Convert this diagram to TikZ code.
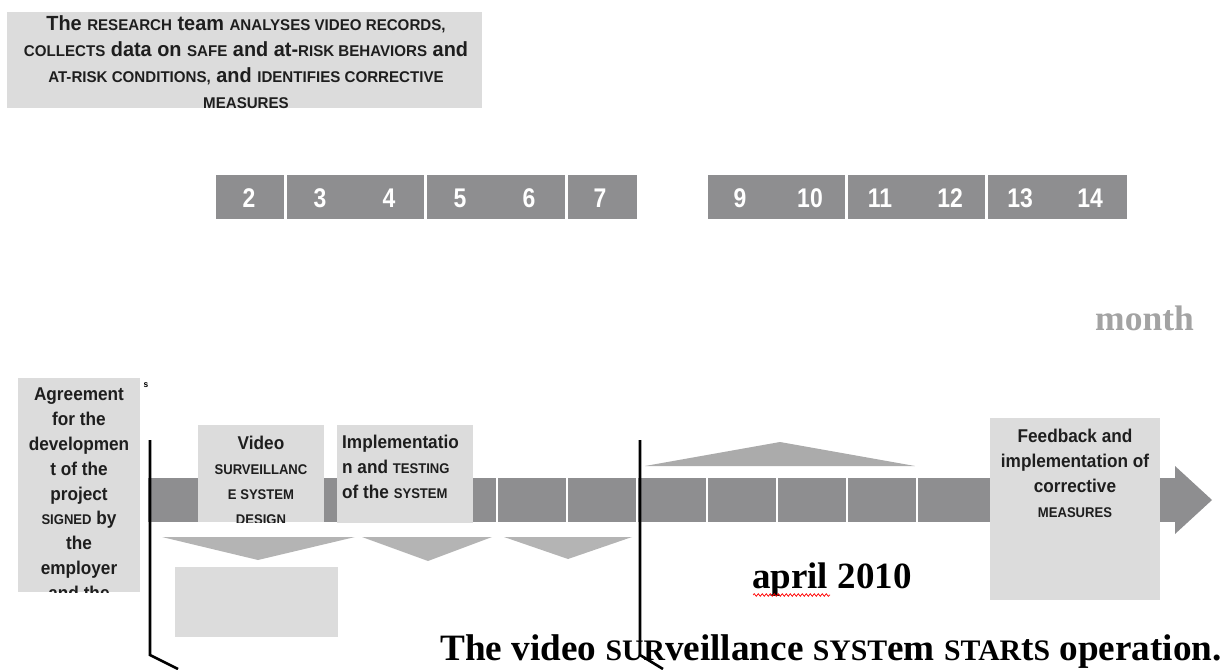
\documentclass[tikz,border=0pt]{standalone}
\usepackage{fontspec}
\setmainfont{Liberation Serif}
\newfontfamily\nar[FakeStretch=0.85]{Liberation Sans}
\newfontfamily\arl[FakeStretch=0.93]{Liberation Sans}
\newfontfamily\arn[FakeStretch=0.97]{Liberation Sans}
\usetikzlibrary{decorations.pathmorphing}
\definecolor{barc}{HTML}{8E8E90}
\definecolor{lbox}{HTML}{DCDCDC}
\definecolor{tric}{HTML}{B4B4B4}
\definecolor{toptri}{HTML}{ABABAB}
\definecolor{txt}{HTML}{1E1E1E}
\definecolor{monthc}{HTML}{A3A3A3}
\newcommand\kap[1]{\scalebox{0.76}{#1}}
\newcommand\skap[1]{\scalebox{0.8}{#1}}
\tikzset{
  lightbox/.style={fill=lbox, draw=none, inner sep=0pt},
  numbox/.style={fill=barc, draw=none, inner sep=0pt},
  numtxt/.style={text=white, font=\nar\bfseries\fontsize{27}{27}\selectfont, inner sep=0pt},
  boxtxt/.style={text=txt, font=\arl\bfseries\fontsize{18.5}{24.8}\selectfont, inner sep=0pt},
  pole/.style={line width=2.6pt, black},
  sep/.style={white, line width=1.8pt},
}
\begin{document}
\begin{tikzpicture}[x=1pt,y=-1pt]
\useasboundingbox (0,0) rectangle (1230,669);
% top description box
\node[lightbox, minimum width=475pt, minimum height=96pt] (desc) at (244.5,60) {};
\node[align=center, inner sep=0pt, text=txt, font=\arn\bfseries\fontsize{20.5}{26}\selectfont] (desctxt) at (246,62)
 {The \kap{RESEARCH} team \kap{ANALYSES VIDEO RECORDS,}\\
  \kap{COLLECTS} data on \kap{SAFE} and at-\kap{RISK BEHAVIORS} and\\
  \kap{AT-RISK CONDITIONS,} and \kap{IDENTIFIES CORRECTIVE}\\
  \kap{MEASURES}};
% month number boxes
\fill[numbox] (216,175) rectangle (284,219);
\fill[numbox] (287,175) rectangle (424,219);
\fill[numbox] (427,175) rectangle (565,219);
\fill[numbox] (568,175) rectangle (637,219);
\fill[numbox] (708,175) rectangle (845,219);
\fill[numbox] (848,175) rectangle (985,219);
\fill[numbox] (988,175) rectangle (1127,219);
\foreach \n/\x in {2/249,3/320,4/389,5/460,6/529,7/600,9/740,10/810,11/880,12/950,13/1020,14/1090}
  \node[numtxt] (m\n) at (\x,198) {\n};
\node[font=\bfseries\fontsize{35.5}{35.5}\selectfont, text=monthc, inner sep=0pt] (month) at (1144.5,318) {month};
% main bar
\fill[barc] (148,478) rectangle (1178,522);
\fill[barc] (1175,466) -- (1212,500) -- (1175,534) -- cycle;
\foreach \x in {497,567,637,707,777,847,917}
  \draw[sep] (\x,478) -- (\x,522);
% top triangle
\fill[toptri] (645,466) -- (780,442) -- (915,466) -- cycle;
% down triangles
\fill[tric] (162,537) -- (355,537) -- (258,560) -- cycle;
\fill[tric] (362,537) -- (492,537) -- (428,561) -- cycle;
\fill[tric] (504,537) -- (632,537) -- (568,559) -- cycle;
% empty light rectangle
\node[lightbox, minimum width=163pt, minimum height=70pt] (empty) at (256.5,602) {};
% agreement box
\node[lightbox, minimum width=122pt, minimum height=214pt] (agree) at (79,485) {};
\begin{scope}
\clip (18,378) rectangle (140,592);
\node[boxtxt, align=center, anchor=north] (agreetxt) at (79,388)
 {Agreement\\for the\\developmen\\t of the\\project\\\kap{SIGNED} by\\the\\employer\\and the};
\end{scope}
\node[font=\arl\bfseries\fontsize{9}{9}\selectfont, inner sep=0pt] (sidx) at (146,385) {s};
% video box
\node[lightbox, minimum width=126pt, minimum height=97pt] (video) at (261,473.5) {};
\begin{scope}
\clip (198,425) rectangle (324,522);
\node[boxtxt, align=center, anchor=north] (videotxt) at (261,436)
 {Video\\\kap{SURVEILLANC}\\\kap{E SYSTEM}\\\kap{DESIGN}};
\end{scope}
% implementation box
\node[lightbox, minimum width=136pt, minimum height=98pt] (impl) at (405,474) {};
\node[boxtxt, align=left, anchor=north west] (impltxt) at (342,435)
 {Implementatio\\n and \kap{TESTING}\\of the \kap{SYSTEM}};
% feedback box
\node[lightbox, minimum width=170pt, minimum height=182pt] (feed) at (1075,509) {};
\node[boxtxt, align=center, anchor=north] (feedtxt) at (1075,429)
 {Feedback and\\implementation of\\corrective\\\kap{MEASURES}};
% poles
\coordinate (p1a) at (150,440); \coordinate (p1b) at (150,655); \coordinate (p1c) at (178,669);
\coordinate (p2a) at (640,440); \coordinate (p2b) at (640,655); \coordinate (p2c) at (663,669);
\draw[pole] (p1a) -- (p1b) -- (p1c);
% texts
\node[font=\bfseries\fontsize{37}{37}\selectfont, inner sep=0pt, anchor=base west] (april) at (752,588) {april 2010};
\draw[red, line width=0.7pt, decorate, decoration={snake, amplitude=1.3pt, segment length=4pt}]
  (753,595) -- (830,595);
\node[font=\bfseries\fontsize{37.2}{37.2}\selectfont, inner sep=0pt, anchor=base west] (start) at (440,660)
 {The video \skap{SUR}veillance \skap{SYST}em \skap{STAR}t\skap{S} operation.};
\draw[pole] (p2a) -- (p2b) -- (p2c);
\end{tikzpicture}
\end{document}
